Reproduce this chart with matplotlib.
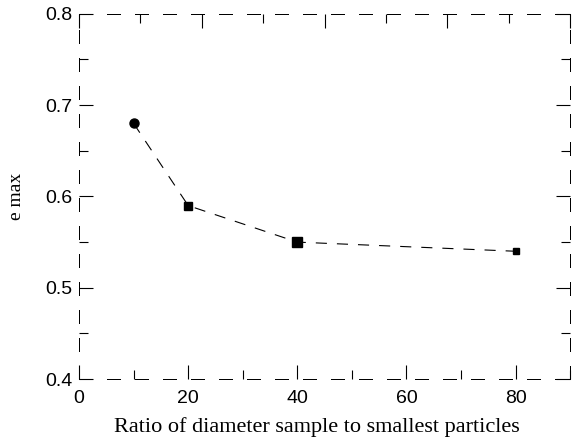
import matplotlib.pyplot as plt
from matplotlib.ticker import MultipleLocator

ratio = [10, 20, 40, 80]
e_max = [0.68, 0.59, 0.55, 0.54]
marker_shapes = ['o', 's', 's', 's']
marker_sizes = [6.5, 5.5, 7, 5]

SERIF = ['Liberation Serif', 'DejaVu Serif']
SANS = ['Liberation Sans', 'DejaVu Sans']
DASH = (0, (13, 15))


def main():
    fig = plt.figure(figsize=(5.73, 4.46), dpi=100)
    ax = fig.add_axes([0.138, 0.150, 0.857, 0.819])

    ax.plot(ratio, e_max, color='black', lw=0.8, linestyle=(0, (10, 9)))
    for x, y, m, s in zip(ratio, e_max, marker_shapes, marker_sizes):
        ax.plot(x, y, marker=m, ms=s, color='black', ls='none')

    ax.set_xlim(0, 90)
    ax.set_ylim(0.4, 0.8)
    ax.xaxis.set_major_locator(MultipleLocator(20))
    ax.xaxis.set_minor_locator(MultipleLocator(10))
    ax.yaxis.set_major_locator(MultipleLocator(0.1))
    ax.yaxis.set_minor_locator(MultipleLocator(0.05))
    ax.tick_params(which='both', direction='in', right=True, width=0.8,
                   labelsize=14, pad=5)
    ax.tick_params(which='major', length=10)
    ax.tick_params(which='minor', length=6.5)
    ax.tick_params(axis='x', pad=8)
    ax.set_xticks([0, 20, 40, 60, 80])
    ax.set_yticks([0.4, 0.5, 0.6, 0.7, 0.8])
    for lab in ax.get_xticklabels() + ax.get_yticklabels():
        lab.set_family(SANS)

    for sp in ax.spines.values():
        sp.set_linestyle(DASH)
        sp.set_linewidth(0.72)

    # top axis has its own tick spacing in the original
    top = ax.twiny()
    top.set_xlim(0, 80)
    top.xaxis.set_major_locator(MultipleLocator(20))
    top.xaxis.set_minor_locator(MultipleLocator(10))
    top.tick_params(which='both', direction='in', labeltop=False, width=0.8)
    top.tick_params(which='major', length=10)
    top.tick_params(which='minor', length=6.5)
    for sp in top.spines.values():
        sp.set_visible(False)

    ax.set_xlabel('Ratio of diameter sample to smallest particles',
                  family=SERIF, fontsize=16, labelpad=7, x=0.485)
    ax.set_ylabel('e max', family=SERIF, fontsize=14, labelpad=14)

    fig.savefig('out.png', dpi=100)
    plt.close(fig)


if __name__ == '__main__':
    main()
